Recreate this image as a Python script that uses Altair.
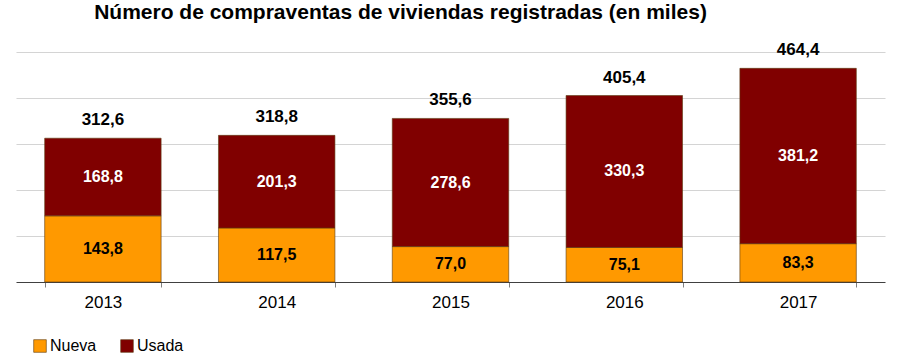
import altair as alt
import pandas as pd

years = ["2013", "2014", "2015", "2016", "2017"]
nueva = [143.8, 117.5, 77.0, 75.1, 83.3]
usada = [168.8, 201.3, 278.6, 330.3, 381.2]
totales = [312.6, 318.8, 355.6, 405.4, 464.4]
series = ["Nueva", "Usada"]
colors = ["#FF9900", "#800000"]

def fmt(v):
    return f"{v:.1f}".replace(".", ",")

rows = []
for i, y in enumerate(years):
    rows.append({"year": y, "tipo": "Nueva", "val": nueva[i], "ord": 0,
                 "mid": nueva[i] / 2, "lab": fmt(nueva[i]), "tc": "black"})
    rows.append({"year": y, "tipo": "Usada", "val": usada[i], "ord": 1,
                 "mid": nueva[i] + usada[i] / 2, "lab": fmt(usada[i]), "tc": "white"})
df = pd.DataFrame(rows)
tot = pd.DataFrame({"year": years, "total": totales, "lab": [fmt(t) for t in totales]})

FONT = "Liberation Sans"

x = alt.X("year:N", title=None, sort=years,
          scale=alt.Scale(paddingInner=0.33, paddingOuter=0.165),
          axis=alt.Axis(labelAngle=0, labelFontSize=17, labelColor="black", labelFont=FONT,
                        labelPadding=7, domainColor="#404040", domainWidth=1.2,
                        tickBand="extent", tickColor="#808080", tickSize=5))

bars = alt.Chart(df).mark_bar(stroke="#5a3a10", strokeWidth=0.6).encode(
    x=x,
    y=alt.Y("val:Q", stack="zero", title=None,
            scale=alt.Scale(domain=[0, 500], nice=False),
            axis=alt.Axis(values=[100, 200, 300, 400, 500], grid=True, gridColor="#d4d4d4",
                          gridWidth=1.2, labels=False, ticks=False, domain=False)),
    color=alt.Color("tipo:N", scale=alt.Scale(domain=series, range=colors),
                    legend=alt.Legend(title=None, orient="none", direction="horizontal",
                                      legendX=16, legendY=286, symbolType="square",
                                      symbolSize=160, symbolStrokeWidth=0.6,
                                      labelFontSize=16, labelFont=FONT, labelColor="black",
                                      columnPadding=22, symbolOffset=0, labelOffset=2)),
    order=alt.Order("ord:Q"),
)

seglab = alt.Chart(df).mark_text(fontSize=16, fontWeight="bold", font=FONT, baseline="middle").encode(
    x=alt.X("year:N", sort=years),
    y=alt.Y("mid:Q"),
    text="lab:N",
    color=alt.Color("tc:N", scale=None),
)

totlab = alt.Chart(tot).mark_text(fontSize=17, fontWeight="bold", font=FONT, baseline="bottom",
                                  dy=-9, color="black").encode(
    x=alt.X("year:N", sort=years),
    y=alt.Y("total:Q"),
    text="lab:N",
)

chart = alt.layer(bars, seglab, totlab).properties(
    width=869, height=230,
    autosize=alt.AutoSizeParams(type="none"),
    padding={"left": 16, "top": 52, "right": 15, "bottom": 75},
    title=alt.TitleParams("Número de compraventas de viviendas registradas (en miles)",
                          fontSize=21, fontWeight="bold", font=FONT, color="black",
                          anchor="middle", dx=-50, offset=18),
).configure_view(stroke=None)

chart.save("out.html", embed_options={"renderer": "svg", "actions": False})
